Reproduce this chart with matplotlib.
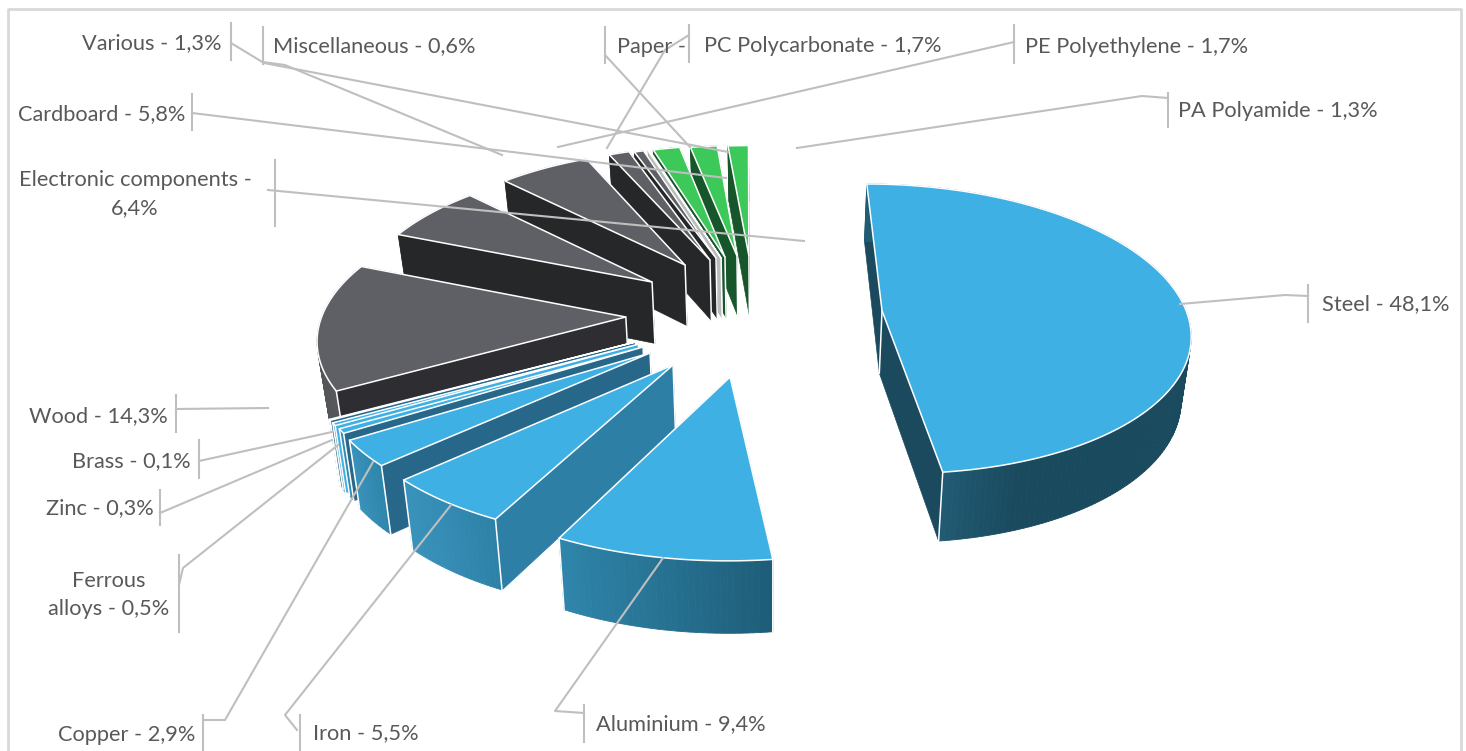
import numpy as np
import matplotlib
matplotlib.use('Agg')
import matplotlib.pyplot as plt
from matplotlib.patches import Polygon, Rectangle

# chart data, clockwise from 12 o'clock
materials = ['Steel', 'Aluminium', 'Iron', 'Copper', 'Ferrous\nalloys', 'Zinc', 'Brass', 'Wood',
             'Electronic components', 'Cardboard', 'Various', 'Miscellaneous', 'Paper',
             'PC Polycarbonate', 'PE Polyethylene', 'PA Polyamide']
shares = [48.1, 9.4, 5.5, 2.9, 0.5, 0.3, 0.1, 14.3, 6.4, 5.8, 1.3, 0.6, 0.1, 1.7, 1.7, 1.3]

# how far each slice is pulled out of the pie, in pie radii
explode_u = [0.437, -0.045, -0.219, -0.292, -0.315, -0.33, -0.34, -0.378,
             -0.304, -0.199, -0.117, -0.097, -0.08, -0.067, -0.027, 0.013]
explode_v = [0.038, -0.411, -0.333, -0.254, -0.214, -0.195, -0.18, -0.007,
             0.248, 0.378, 0.4175, 0.433, 0.433, 0.44, 0.45, 0.45]
# slice radius across and along the view
radius_u = [0.97, 0.99, 1, 1, 1, 1, 1, 0.965, 0.95, 0.94, 0.94, 0.94, 0.94, 0.94, 0.94, 0.94]
radius_v = [1.02, 1.02, 1, 1, 1, 1, 1, 1, 1, 1, 1, 0.98, 0.98, 0.98, 0.97, 0.97]
# wall height kept at the rim end of the left cut face
rim_wall = [1] * 13 + [0.05, 0.05, 0.05]

BLUE, GREY, GREEN = '#3EB0E4', '#5F6066', '#3CC95A'
top_col = [BLUE] * 7 + [GREY] * 6 + [GREEN] * 3
cut_col = ['#1B4A5E', '#2D7FA6', '#2D7FA6', '#27678A', '#27678A', '#3EB0E4', '#27678A', '#2E2D31',
           '#262729', '#262729', '#262729', '#262729', '#BBBBBB', '#17552A', '#17552A', '#17552A']
rim_left = ['#215C75', '#2F86AC', '#3A93BD', '#3A93BD', '#3A93BD', '#3A93BD', '#3A93BD', '#55565A',
            '#55565A', '#55565A', '#55565A', '#55565A', '#55565A', '#17552A', '#17552A', '#17552A']
rim_right = ['#1A4A5E', '#1E5D78', '#2E82A8', '#2F86AC', '#2F86AC', '#2F86AC', '#2F86AC', '#55565A',
             '#55565A', '#55565A', '#55565A', '#55565A', '#55565A', '#17552A', '#17552A', '#17552A']

# label placement: x, y, alignment
label_x = [1322, 596, 313, 195, 109, 154, 191, 168, 135, 185, 221, 273, 617, 704, 1025, 1178]
label_y = [304, 724, 733, 735, 595, 508, 461, 416, 194, 114, 43, 46, 47, 46, 47, 111]
label_ha = ['left', 'left', 'left', 'right', 'center', 'right', 'right', 'right', 'center', 'right',
            'right', 'left', 'left', 'left', 'left', 'left']

# leader lines: the short upright tick, then the path to the slice
tick_x = [1308, 584, 300, 203, 179, 160, 199, 176, 275, 192, 231, 263, 605, 689, 1014, 1168]
tick_y0 = [285, 705, 715, 715, 555, 490, 440, 395, 160, 94, 23, 27, 27, 25, 25, 93]
tick_y1 = [322, 742, 751, 751, 632, 525, 478, 432, 226, 130, 60, 64, 63, 62, 63, 127]
leaders = [
    [(1308, 296), (1285, 295), (1180, 304)],
    [(584, 713), (555, 711), (663, 558)],
    [(297, 730), (285, 715), (451, 505)],
    [(203, 720), (225, 720), (373, 462)],
    [(179, 585), (183, 568), (338, 445)],
    [(160, 513), (332, 440)],
    [(199, 461), (332, 432)],
    [(176, 409), (268, 408)],
    [(268, 190), (804, 241)],
    [(192, 113), (726, 178)],
    [(231, 43), (264, 63), (728, 152)],
    [(263, 62), (285, 65), (502, 155)],
    [(605, 55), (690, 147)],
    [(689, 35), (665, 50), (607, 148)],
    [(1014, 42), (558, 147)],
    [(1168, 98), (1142, 96), (797, 148)],
]

# projection of the pie plane onto the page
CX, CY, A, B, K = 745, 316, 315, 141, 0.123


def project(u, v):
    w = 1 + K * v
    return CX + A * u / w, CY - B * v / w


def drop(x, y, frac=1.0):
    # bottom of a wall below a top point; walls lean to x=770 and grow towards the viewer
    h = (62 + 0.04 * (y - 300)) * frac
    return x + (770 - x) * 0.024 * frac, y + h


def mix(c0, c1, t):
    a = np.array(matplotlib.colors.to_rgb(c0))
    b = np.array(matplotlib.colors.to_rgb(c1))
    return tuple(a + (b - a) * t)


plt.rcParams['font.family'] = ['Lato', 'DejaVu Sans']
fig = plt.figure(figsize=(14.66, 7.51), dpi=100)
ax = fig.add_axes([0, 0, 1, 1])
ax.set_xlim(0, 1466)
ax.set_ylim(751, 0)
ax.axis('off')

# chart frame
ax.plot([8, 8, 1461, 1461], [751, 9, 9, 751], color='#D9D9D9', lw=2)

edges = np.radians(np.concatenate([[0], np.cumsum(shares)]) / sum(shares) * 360)

# back slices first, so the ones in front cover them
for i in range(len(shares) - 1, -1, -1):
    z = 2 + len(shares) - i
    t0, t1 = edges[i], edges[i + 1]
    n = max(4, int((t1 - t0) * 60))
    th = np.linspace(t0, t1, n)
    ax0, ay0 = project(explode_u[i], explode_v[i])
    rx, ry = project(explode_u[i] + radius_u[i] * np.sin(th), explode_v[i] + radius_v[i] * np.cos(th))
    ex, ey = drop(ax0, ay0)

    def draw_cuts():
        bx, by = drop(rx[0], ry[0])
        ax.add_patch(Polygon([(ax0, ay0), (rx[0], ry[0]), (bx, by), (ex, ey)],
                             fc=cut_col[i], ec=cut_col[i], lw=0.5, zorder=z))
        bx, by = drop(rx[-1], ry[-1], rim_wall[i])
        ax.add_patch(Polygon([(ax0, ay0), (rx[-1], ry[-1]), (bx, by), (ex, ey)],
                             fc=cut_col[i], ec=cut_col[i], lw=0.5, zorder=z))

    # front slices: cut faces sit behind the rim, back slices the other way round
    if i <= 7:
        draw_cuts()

    # outer rim, shaded left to right
    xmin, xmax = rx.min(), rx.max()
    for j in range(n - 1):
        x0, y0 = drop(rx[j], ry[j])
        x1, y1 = drop(rx[j + 1], ry[j + 1])
        t = (rx[j] - xmin) / max(xmax - xmin, 1)
        if i == 0:
            # steel only fades over its first part, seen from the left
            t = min(1, (rx[j] - 940) / 80)
        c = mix(rim_left[i], rim_right[i], max(t, 0))
        ax.add_patch(Polygon([(rx[j], ry[j]), (rx[j + 1], ry[j + 1]), (x1, y1), (x0, y0)],
                             fc=c, ec=c, lw=0.6, zorder=z))

    if i > 7:
        draw_cuts()

    # white corner lines
    ax.plot([ax0, ex], [ay0, ey], color='white', lw=1.1, zorder=z)
    for k in (0, -1):
        if ry[k] > CY:
            bx, by = drop(rx[k], ry[k])
            ax.plot([rx[k], bx], [ry[k], by], color='white', lw=1.1, zorder=z)

    # top face
    pts = [(ax0, ay0)] + list(zip(rx, ry))
    ax.add_patch(Polygon(pts, fc=top_col[i], ec='white', lw=1.1, zorder=z))

# leaders
for i in range(len(materials)):
    ax.plot([tick_x[i], tick_x[i]], [tick_y0[i], tick_y1[i]], color='#BFBFBF', lw=1.5, zorder=30)
    xs, ys = zip(*leaders[i])
    ax.plot(xs, ys, color='#BFBFBF', lw=1.5, zorder=30)

# labels
for i, name in enumerate(materials):
    text = name + ' - ' + f'{shares[i]:.1f}'.replace('.', ',') + '%'
    if name == 'Electronic components':
        text = name + ' -\n' + f'{shares[i]:.1f}'.replace('.', ',') + '%'
    t = ax.text(label_x[i], label_y[i], text, ha=label_ha[i], va='center', color='#595959',
                fontsize=15.7, linespacing=1.5, zorder=31)
    if name == 'Paper':
        # the PC label box cuts this one off in the source
        t.set_clip_on(True)
        t.set_clip_path(Rectangle((600, 20), 90, 60, transform=ax.transData))

fig.savefig('out.png', dpi=100)
